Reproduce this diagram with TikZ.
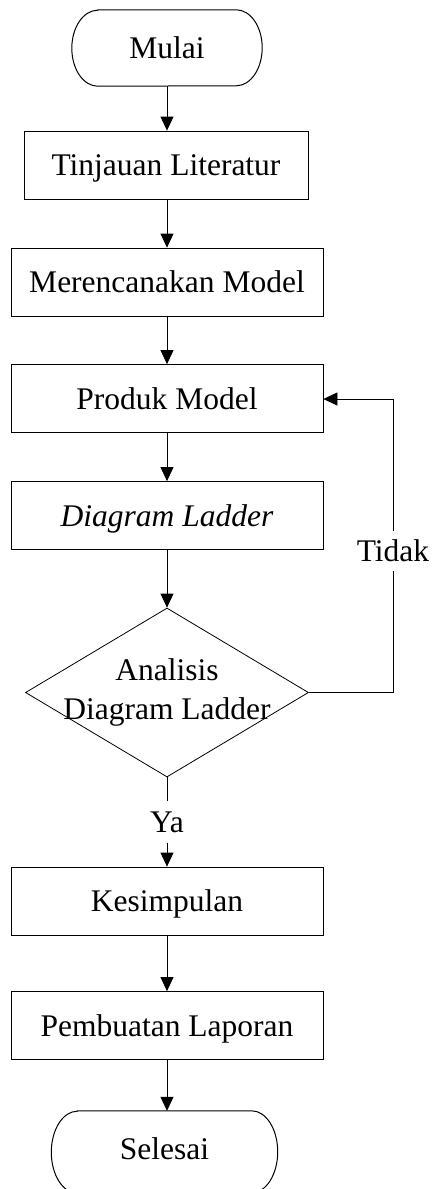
\documentclass[tikz,border=0pt]{standalone}
\usepackage{fontspec}
\setmainfont{Liberation Serif}
\usetikzlibrary{arrows.meta,shapes.geometric}
\newcommand{\drawterm}[2]{%
  \draw[termline] ([xshift=26pt]#1.north west) -- ([xshift=-26pt]#1.north east)
    arc[start angle=90,end angle=-90,x radius=26pt,y radius=#2]
    -- ([xshift=26pt]#1.south west)
    arc[start angle=270,end angle=90,x radius=26pt,y radius=#2] -- cycle;}
\begin{document}
\begin{tikzpicture}[x=1pt,y=1pt,
  every node/.style={font=\fontsize{31.5}{39}\selectfont},
  proc/.style={draw, line width=0.8pt, inner sep=0pt, minimum height=68pt,
    text height=21pt, text depth=0pt, minimum width=312pt},
  term/.style={inner sep=0pt, minimum height=76pt, text height=21pt, text depth=0pt},
  termline/.style={line width=1pt},
  arr/.style={line width=0.8pt, -{Triangle[length=14pt,width=13pt]}},
  conn/.style={line width=0.8pt},
  lbl/.style={inner sep=10pt, text height=21pt, text depth=0pt}]
\useasboundingbox (0,0) rectangle (434,-1189);
\clip (0,0) rectangle (434,-1189);
\fill[white] (0,0) rectangle (434,-1189);

\node[term, minimum width=190pt] (mulai) at (167,-48) {Mulai};
\drawterm{mulai}{38pt}
\node[proc, minimum width=284pt] (tinj) at (166,-165) {Tinjauan Literatur};
\node[proc] (renc) at (167,-282) {Merencanakan Model};
\node[proc] (prod) at (167,-398.5) {Produk Model};
\node[proc] (dl) at (167,-515.5) {\itshape Diagram Ladder};
\node[diamond, draw, line width=0.8pt, inner sep=0pt, minimum width=283pt,
  minimum height=169pt] (dec) at (167,-692.5) {};
\node[align=center, inner sep=0pt] (dectext) at (167,-692.5)
  {Analisis\\Diagram Ladder};
\node[proc] (kes) at (167,-901) {Kesimpulan};
\node[proc] (lap) at (167,-1025.5) {Pembuatan Laporan};
\node[term, minimum width=226pt, minimum height=82pt] (sel) at (164.5,-1152) {};
\node[term] (seltext) at (164.5,-1149) {Selesai};
\drawterm{sel}{41pt}

\node[lbl] (ya) at (167,-822) {Ya};
\node[lbl, inner sep=9pt] (tidak) at (393,-551) {Tidak};

\draw[arr] (mulai.south) -- (tinj.north -| mulai.south);
\draw[arr] (tinj.south -| renc.north) -- (renc.north);
\draw[arr] (renc.south) -- (prod.north);
\draw[arr] (prod.south) -- (dl.north);
\draw[arr] (dl.south) -- (dec.north);
\draw[conn] (dec.south) -- (ya.north);
\draw[arr] (ya.south) -- (kes.north);
\draw[arr] (kes.south) -- (lap.north);
\draw[arr] (lap.south) -- (sel.north -| lap.south);
\draw[conn] (dec.east) -| (tidak.south);
\draw[arr] (tidak.north) |- ([yshift=-0.5pt]prod.east);
\end{tikzpicture}
\end{document}
